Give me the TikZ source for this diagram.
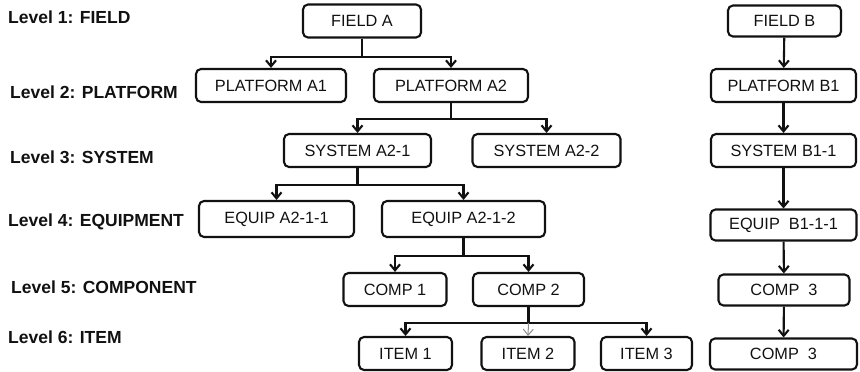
\documentclass[tikz,border=0pt]{standalone}
\usepackage{fontspec}
\setmainfont{Liberation Sans}
\usetikzlibrary{arrows.meta}
\definecolor{ink}{HTML}{111111}
\definecolor{faint}{HTML}{8A8A8A}
\tikzset{
  unit/.style={draw=ink, rounded corners=5pt, line width=2.1pt, inner sep=0pt,
    minimum height=33pt, font=\fontsize{16.3}{19}\selectfont, text=ink},
  levelname/.style={anchor=west, inner sep=0pt, font=\bfseries\fontsize{17.5}{20}\selectfont, text=ink},
  link/.style={draw=ink, line width=2.1pt, -{Straight Barb[length=6pt,width=10pt]}},
}

\begin{document}
\begin{tikzpicture}[x=1pt, y=-1pt]
    \useasboundingbox (0,0) rectangle (860,372);
    \node[levelname] (lv1) at (8,17)   {Level 1: FIELD};
    \node[levelname] (lv2) at (10,92)  {Level 2: PLATFORM};
    \node[levelname] (lv3) at (10,157) {Level 3: SYSTEM};
    \node[levelname] (lv4) at (8,222)  {Level 4: EQUIPMENT};
    \node[levelname] (lv5) at (11,287) {Level 5: COMPONENT};
    \node[levelname] (lv6) at (8,337)  {Level 6: ITEM};

    % field A tree
    \node[unit, minimum width=118pt] (fieldA) at (362,21) {FIELD A};
    \node[unit, minimum width=150pt] (platA1) at (271,85.5) {PLATFORM A1};
    \node[unit, minimum width=154pt] (platA2) at (451,85.5) {PLATFORM A2};
    \node[unit, minimum width=147pt] (sysA21) at (357.5,150.5) {SYSTEM A2-1};
    \node[unit, minimum width=148pt] (sysA22) at (546.5,150.5) {SYSTEM A2-2};
    \node[unit, minimum width=155pt, minimum height=36pt] (eqA211) at (276.5,219) {EQUIP A2-1-1};
    \node[unit, minimum width=163pt, minimum height=36pt] (eqA212) at (463.5,219) {EQUIP A2-1-2};
    \node[unit, minimum width=103pt] (comp1) at (395,289.5) {COMP 1};
    \node[unit, minimum width=111pt] (comp2) at (528.5,289.5) {COMP 2};
    \node[unit, minimum width=93pt] (item1) at (405.5,353.5) {ITEM 1};
    \node[unit, minimum width=93pt] (item2) at (528,353.5) {ITEM 2};
    \node[unit, minimum width=91pt] (item3) at (646.5,353.5) {ITEM 3};

    % field B chain
    \node[unit, minimum width=113pt, minimum height=31pt] (fieldB) at (784.5,21) {FIELD B};
    \node[unit, minimum width=145pt] (platB1) at (783.5,85.5) {PLATFORM B1};
    \node[unit, minimum width=145pt] (sysB11) at (783.5,150.5) {SYSTEM B1-1};
    \node[unit, minimum width=146pt, minimum height=31pt] (eqB111) at (783.5,225) {EQUIP\ \ B1-1-1};
    \node[unit, minimum width=131pt, minimum height=31pt] (comp3) at (784,290) {COMP\ \ 3};
    \node[unit, minimum width=147pt, minimum height=31pt] (comp3b) at (783.5,354) {COMP\ \ 3};

    \draw[link] (fieldA.south) -- ++(0,18) -| (platA1.north);
    \draw[link] (fieldA.south) -- ++(0,18) -| (platA2.north);
    \draw[link] (platA2.south) -- ++(0,16) -| (sysA21.north);
    \draw[link] (platA2.south) -- ++(0,16) -| (sysA22.north);
    \draw[link] (sysA21.south) -- ++(0,17) -| (eqA211.north);
    \draw[link] (sysA21.south) -- ++(0,17) -| (eqA212.north);
    \draw[link] (eqA212.south) -- ++(0,18) -| (comp1.north);
    \draw[link] (eqA212.south) -- ++(0,18) -| (comp2.north);
    \draw[link] (comp2.south) -- ++(0,16) -| (item1.north);
    \draw[link] (comp2.south) -- ++(0,16) -| (item3.north);
    \draw[link, draw=faint, line width=1pt] (comp2.south) ++(0,16) -- (item2.north);

    \draw[link] (fieldB) -- (platB1);
    \draw[link] (platB1) -- (sysB11);
    \draw[link] (sysB11) -- (eqB111);
    \draw[link] (eqB111) -- (comp3);
    \draw[link] (comp3) -- (comp3b);
  \end{tikzpicture}
\end{document}
